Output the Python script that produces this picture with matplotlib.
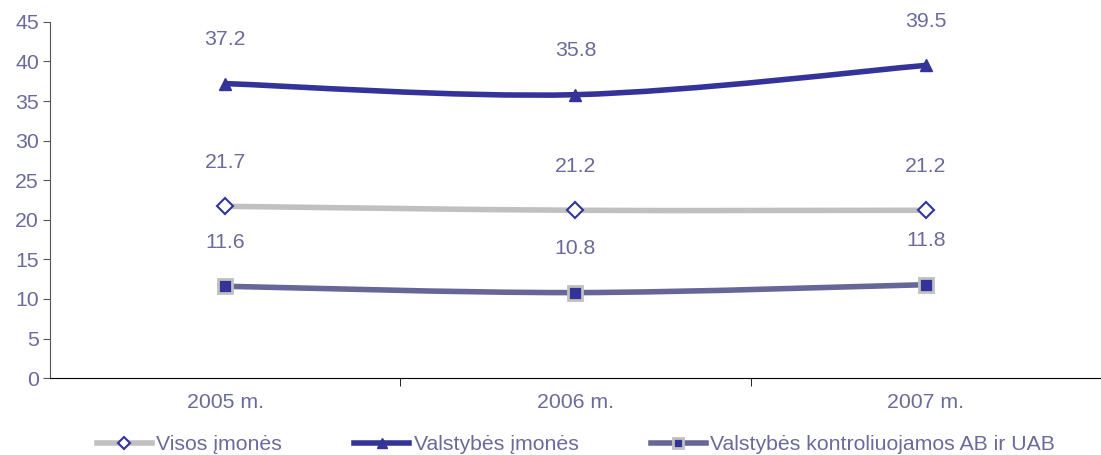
import matplotlib.pyplot as plt
import numpy as np
from matplotlib.path import Path
from matplotlib.patches import PathPatch
from matplotlib.lines import Line2D

years = ["2005 m.", "2006 m.", "2007 m."]
visos = [21.7, 21.2, 21.2]
valstybes = [37.2, 35.8, 39.5]
kontroliuojamos = [11.6, 10.8, 11.8]

text_col = "#6B6B9B"
fs = 15.3
plt.rcParams["font.family"] = ["Liberation Sans", "DejaVu Sans"]


def smooth_path(xs, ys):
    # Catmull-Rom style bezier like Excel smoothed lines
    pts = np.column_stack([xs, ys])
    verts = [pts[0]]
    codes = [Path.MOVETO]
    n = len(pts)
    for i in range(n - 1):
        p0 = pts[i - 1] if i > 0 else pts[i]
        p1, p2 = pts[i], pts[i + 1]
        p3 = pts[i + 2] if i + 2 < n else pts[i + 1]
        c1 = p1 + (p2 - p0) / 6
        c2 = p2 - (p3 - p1) / 6
        verts += [c1, c2, p2]
        codes += [Path.CURVE4] * 3
    return Path(verts, codes)


fig = plt.figure(figsize=(11.01, 4.55), dpi=100)
ax = fig.add_axes([0.0454, 0.169, 0.9546, 0.783])
x = np.arange(len(years))

series = [
    (visos, "Visos įmonės", "#C0C0C0", dict(marker="D", ms=8, mfc="white", mec="#333399", mew=1.5)),
    (valstybes, "Valstybės įmonės", "#333399", dict(marker="^", ms=9, mfc="#333399", mec="#333399", mew=1)),
    (kontroliuojamos, "Valstybės kontroliuojamos AB ir UAB", "#666699",
     dict(marker="s", ms=10, mfc="#333399", mec="#C0C0C0", mew=2)),
]

handles = []
for vals, label, col, mk in series:
    ax.add_patch(PathPatch(smooth_path(x, vals), fc="none", ec=col, lw=4, zorder=2))
    ax.plot(x, vals, ls="none", zorder=3, **mk)
    for xi, v in zip(x, vals):
        ax.annotate(f"{v:.1f}", (xi, v), xytext=(0, 25), textcoords="offset points",
                    ha="center", va="bottom", color=text_col, fontsize=fs)
    handles.append(Line2D([], [], color=col, lw=4, label=label, **mk))

ax.set_xlim(-0.5, 2.5)
ax.set_ylim(0, 45)
ax.set_yticks(range(0, 46, 5))
ax.set_xticks(x)
ax.set_xticklabels(years)
ax.set_xticks([0.5, 1.5], minor=True)
ax.tick_params(axis="x", which="major", length=0, pad=11, labelcolor=text_col, labelsize=fs)
ax.tick_params(axis="x", which="minor", length=6, color="black", direction="out")
ax.tick_params(axis="y", length=5, color="#555555", labelcolor=text_col, labelsize=fs, pad=3)
ax.spines["top"].set_visible(False)
ax.spines["right"].set_visible(False)
ax.spines["left"].set_color("#555555")
ax.spines["bottom"].set_color("black")

fig.legend(handles=handles, loc="lower center", bbox_to_anchor=(0.523, -0.04), ncol=3,
           frameon=False, handlelength=2.6, handletextpad=0.2, columnspacing=3.4,
           fontsize=fs, labelcolor=text_col, markerscale=0.75)

fig.savefig("out.png", dpi=100)
